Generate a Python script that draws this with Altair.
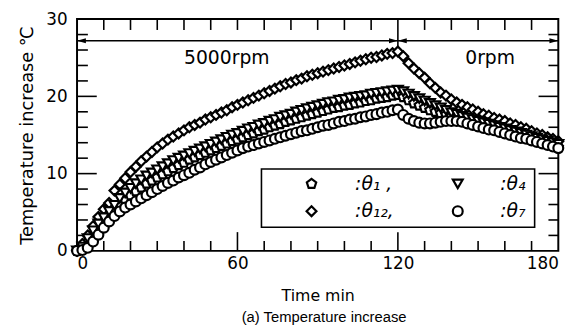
import altair as alt
import pandas as pd

# ---------------- data ----------------
time_min = list(range(0, 181, 2))

theta12 = [0.0, 0.9, 2.0, 3.2, 4.4, 5.4, 6.2, 7.8, 8.6, 9.4,
           10.2, 10.9, 11.6, 12.2, 12.8, 13.4, 13.9, 14.4, 14.8, 15.2,
           15.6, 16.0, 16.3, 16.6, 17.0, 17.3, 17.6, 17.9, 18.2, 18.6,
           18.9, 19.2, 19.5, 19.8, 20.1, 20.4, 20.7, 21.0, 21.3, 21.6,
           21.8, 22.1, 22.3, 22.6, 22.8, 23.0, 23.2, 23.4, 23.6, 23.8,
           24.0, 24.2, 24.4, 24.6, 24.8, 25.0, 25.1, 25.3, 25.5, 25.6,
           25.8, 25.2, 24.3, 23.6, 23.0, 22.4, 21.7, 21.1, 20.5, 20.1,
           19.6, 19.2, 18.9, 18.6, 18.3, 18.0, 17.7, 17.5, 17.2, 17.0,
           16.8, 16.5, 16.3, 16.0, 15.8, 15.5, 15.2, 15.0, 14.7, 14.5,
           14.2]

theta4 = [0.0, 0.5, 1.6, 2.6, 3.5, 4.3, 5.1, 5.9, 6.8, 7.5,
          8.1, 8.7, 9.2, 9.7, 10.1, 10.5, 10.9, 11.3, 11.7, 12.0,
          12.3, 12.6, 12.9, 13.2, 13.5, 13.8, 14.1, 14.4, 14.7, 15.0,
          15.2, 15.5, 15.8, 16.0, 16.3, 16.5, 16.8, 17.0, 17.3, 17.5,
          17.7, 18.0, 18.2, 18.4, 18.6, 18.8, 19.0, 19.2, 19.3, 19.5,
          19.6, 19.8, 19.9, 20.0, 20.1, 20.3, 20.4, 20.5, 20.6, 20.7,
          20.8, 20.6, 20.3, 20.0, 19.7, 19.4, 19.1, 18.8, 18.5, 18.2,
          17.9, 17.7, 17.4, 17.2, 17.0, 16.8, 16.6, 16.4, 16.2, 16.0,
          15.8, 15.6, 15.4, 15.2, 15.0, 14.8, 14.6, 14.4, 14.2, 14.0,
          13.8]

theta1 = [0.0, 0.3, 1.2, 2.1, 3.0, 3.8, 4.6, 5.3, 6.0, 6.6,
          7.2, 7.7, 8.2, 8.7, 9.1, 9.5, 9.9, 10.3, 10.7, 11.1,
          11.4, 11.8, 12.1, 12.4, 12.7, 13.0, 13.3, 13.6, 13.9, 14.2,
          14.4, 14.7, 15.0, 15.2, 15.5, 15.7, 16.0, 16.2, 16.4, 16.7,
          16.9, 17.1, 17.3, 17.5, 17.7, 17.9, 18.1, 18.3, 18.5, 18.6,
          18.8, 18.9, 19.1, 19.2, 19.4, 19.5, 19.7, 19.8, 19.9, 20.1,
          20.2, 19.9, 19.5, 19.1, 18.8, 18.5, 18.2, 18.0, 17.8, 17.6,
          17.4, 17.2, 17.0, 16.8, 16.6, 16.4, 16.2, 16.0, 15.8, 15.6,
          15.4, 15.2, 15.0, 14.8, 14.6, 14.4, 14.2, 14.0, 13.8, 13.6,
          13.4]

theta7 = [0.0, 0.1, 0.4, 1.2, 2.1, 3.0, 3.8, 4.5, 5.1, 5.6,
          6.0, 6.4, 6.8, 7.2, 7.6, 8.0, 8.4, 8.8, 9.1, 9.5,
          9.8, 10.1, 10.5, 10.8, 11.2, 11.5, 11.8, 12.1, 12.4, 12.7,
          13.0, 13.3, 13.5, 13.7, 13.9, 14.1, 14.3, 14.5, 14.7, 14.9,
          15.1, 15.3, 15.5, 15.6, 15.8, 16.0, 16.2, 16.3, 16.5, 16.7,
          16.8, 17.0, 17.1, 17.3, 17.4, 17.6, 17.7, 17.9, 18.0, 18.2,
          18.3, 17.6, 17.1, 16.8, 16.6, 16.5, 16.5, 16.6, 16.7, 16.8,
          16.8, 16.8, 16.7, 16.5, 16.3, 16.1, 15.9, 15.7, 15.6, 15.4,
          15.2, 15.0, 14.8, 14.6, 14.5, 14.3, 14.1, 13.9, 13.7, 13.5,
          13.3]

# legend reads row by row: θ1, θ4 / θ12, θ7 (listed here column by column)
series_labels = [":θ₁ ,", ":θ₁₂,", ":θ₄", ":θ₇"]
series_values = [theta1, theta12, theta4, theta7]
series_shapes_order = ["pentagon", "diamond", "triangle-down", "circle"]

x_label_values = [0, 60, 120, 180]
y_label_values = [0, 10, 20, 30]
x_minor_ticks = [10, 20, 30, 40, 50, 70, 80, 90, 100, 110, 130, 140, 150, 160, 170]
x_major_ticks = [60, 120]
x_top_ticks = [10, 20, 30, 40, 50, 60, 70, 80, 90, 100, 110, 130, 140, 150, 160, 170]
y_minor_ticks = [2, 4, 6, 8, 12, 14, 16, 18, 22, 24, 26, 28]
y_major_ticks = [10, 20]

arrow_start = [0, 120]
arrow_end = [120, 180]
arrow_level = 27.2
divider_time = 120
divider_top = 30
divider_bottom = 26.2
rpm_labels = ["5000rpm", "0rpm"]
rpm_label_time = [56, 154.5]
rpm_label_level = [25.0, 25.0]
caption = "(a)  Temperature increase"

# ---------------- tables ----------------
rows = []
for name, vals in zip(series_labels, series_values):
    for t, v in zip(time_min, vals):
        rows.append({"t": t, "v": v, "s": name})
df = pd.DataFrame(rows)
legend_df = pd.DataFrame({"s": series_labels})

W, H = 488, 235
FONT = "DejaVu Sans"
PENTAGON = "M0,-1L0.951,-0.309L0.588,0.809L-0.588,0.809L-0.951,-0.309Z"
SHAPE_PATHS = {"pentagon": PENTAGON, "diamond": "diamond",
               "triangle-down": "triangle-down", "circle": "circle"}
ARROW_LEFT = "M0,0L2.4,-0.7L2.4,0.7Z"
ARROW_RIGHT = "M0,0L-2.4,-0.7L-2.4,0.7Z"

xs = alt.Scale(domain=[0, 180], nice=False, zero=False)
ys = alt.Scale(domain=[0, 30], nice=False, zero=False)
shape_scale = alt.Scale(domain=series_labels,
                        range=[SHAPE_PATHS[s] for s in series_shapes_order])

x_axis = alt.Axis(values=x_label_values, ticks=False, domain=False, grid=False,
                  labelFont=FONT, labelFontSize=17, labelColor="black", labelPadding=5,
                  title="Time min", titleFont=FONT, titleFontSize=16,
                  titleFontWeight="normal", titleColor="black", titlePadding=16)
y_axis = alt.Axis(values=y_label_values, ticks=False, domain=False, grid=False,
                  labelFont=FONT, labelFontSize=17, labelColor="black", labelPadding=10,
                  title="Temperature increase ℃", titleFont=FONT, titleFontSize=18,
                  titleFontWeight="normal", titleColor="black", titlePadding=10)

def X(field="t"):
    return alt.X(f"{field}:Q", scale=xs, axis=x_axis)

def Y(field="v"):
    return alt.Y(f"{field}:Q", scale=ys, axis=y_axis)

MARKER = dict(filled=False, color="black", fill="white", fillOpacity=1, stroke="black",
              strokeWidth=2.2, opacity=1, size=100)

points = alt.Chart(df).mark_point(**MARKER).encode(
    x=X(), y=Y(), shape=alt.Shape("s:N", scale=shape_scale, legend=None))

legend_box = alt.Chart(pd.DataFrame({"k": [0]})).mark_rect(
    fill="white", stroke="black", strokeWidth=1.6
).encode(x=alt.value(187), x2=alt.value(464), y=alt.value(152), y2=alt.value(211))

legend_base = alt.Chart(legend_df).transform_window(
    n="row_number()"
).transform_calculate(
    t="datum.n <= 2 ? 87.7 : 142.4",
    lt="datum.n <= 2 ? 104.0 : 158.3",
    v="datum.n % 2 == 1 ? 8.68 : 5.14",
)
legend_symbols = legend_base.mark_point(**MARKER).encode(
    x=X(), y=Y(), shape=alt.Shape("s:N", scale=shape_scale, legend=None))
legend_labels = legend_base.mark_text(
    align="left", baseline="middle", font=FONT, fontSize=19, fontStyle="italic",
    color="black").encode(x=X("lt"), y=Y(), text="s:N")

def tick_layer(values, field, **enc):
    d = pd.DataFrame({field: values})
    base = alt.Chart(d).mark_rule(color="black", strokeWidth=1.6)
    if field == "t":
        return base.encode(x=X(), **enc)
    return base.encode(y=Y(), **enc)

ticks = [
    tick_layer(x_minor_ticks, "t", y=alt.value(H), y2=alt.value(H - 10)),
    tick_layer(x_major_ticks, "t", y=alt.value(H), y2=alt.value(H - 19)),
    tick_layer(x_top_ticks, "t", y=alt.value(0), y2=alt.value(11)),
    tick_layer(y_minor_ticks, "v", x=alt.value(0), x2=alt.value(11)),
    tick_layer(y_major_ticks, "v", x=alt.value(0), x2=alt.value(20)),
    tick_layer(y_minor_ticks, "v", x=alt.value(W), x2=alt.value(W - 10)),
    tick_layer(y_major_ticks, "v", x=alt.value(W), x2=alt.value(W - 20)),
]

arrows_df = pd.DataFrame({"t": arrow_start, "t2": arrow_end, "v": [arrow_level] * 2})
arrow_lines = alt.Chart(arrows_df).mark_rule(color="black", strokeWidth=1.5).encode(
    x=X(), x2="t2:Q", y=Y())
heads_left = alt.Chart(pd.DataFrame({"t": arrow_start, "v": [arrow_level] * 2})).mark_point(
    shape=ARROW_LEFT, filled=True, color="black", size=56, opacity=1).encode(x=X(), y=Y())
heads_right = alt.Chart(pd.DataFrame({"t": arrow_end, "v": [arrow_level] * 2})).mark_point(
    shape=ARROW_RIGHT, filled=True, color="black", size=56, opacity=1).encode(x=X(), y=Y())
divider = alt.Chart(pd.DataFrame({"t": [divider_time], "v": [divider_top],
                                  "v2": [divider_bottom]})).mark_rule(
    color="black", strokeWidth=1.6).encode(x=X(), y=Y(), y2="v2:Q")
rpm_text = alt.Chart(pd.DataFrame({"t": rpm_label_time, "v": rpm_label_level,
                                   "txt": rpm_labels})).mark_text(
    font=FONT, fontSize=19, color="black").encode(x=X(), y=Y(), text="txt:N")
caption_text = alt.Chart(pd.DataFrame({"k": [0]})).mark_text(
    text=caption, font="Liberation Sans", fontSize=15, color="black", baseline="middle"
).encode(x=alt.value(W / 2 + 6.5), y=alt.value(H + 67))

chart = alt.layer(
    *ticks, arrow_lines, heads_left, heads_right, divider, rpm_text,
    points, legend_box, legend_symbols, legend_labels, caption_text
).properties(
    width=W, height=H,
    padding={"left": 70, "top": 9, "right": 22, "bottom": 80},
    autosize=alt.AutoSizeParams(type="none"),
).configure_view(stroke="black", strokeWidth=2)

chart.save("out.html", embed_options={"renderer": "svg", "actions": False})
